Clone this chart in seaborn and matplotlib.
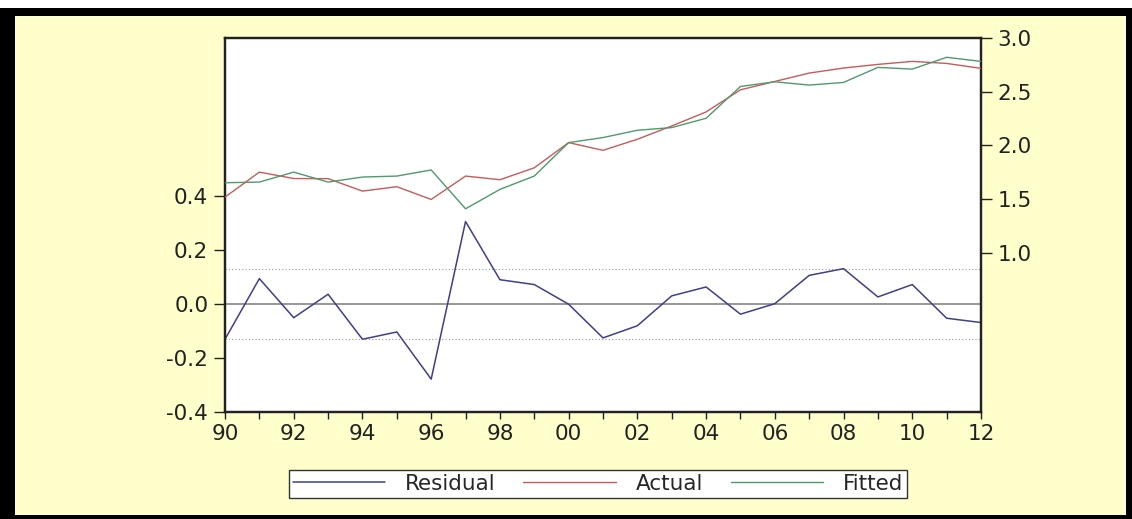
import matplotlib
matplotlib.use("Agg")
import matplotlib.pyplot as plt
from matplotlib.patches import Rectangle
from matplotlib.ticker import MultipleLocator, FixedLocator, FuncFormatter
import seaborn as sns
import pandas as pd

# Annual observations, 1990-2012
years = list(range(1990, 2013))
residual = [-0.130, 0.095, -0.050, 0.037, -0.130, -0.103, -0.278, 0.307, 0.091, 0.073,
            0.000, -0.125, -0.080, 0.031, 0.064, -0.037, 0.002, 0.107, 0.132, 0.027,
            0.073, -0.052, -0.068]
actual = [1.517, 1.750, 1.690, 1.689, 1.573, 1.614, 1.495, 1.713, 1.679, 1.790,
          2.025, 1.953, 2.056, 2.180, 2.311, 2.517, 2.595, 2.673, 2.720, 2.754,
          2.782, 2.763, 2.717]
fitted = [1.651, 1.657, 1.750, 1.657, 1.704, 1.713, 1.770, 1.408, 1.589, 1.713,
          2.025, 2.072, 2.140, 2.165, 2.252, 2.548, 2.592, 2.561, 2.586, 2.726,
          2.710, 2.820, 2.782]
resid_se = 0.13  # one standard error band around zero

left_ticks = [-0.4, -0.2, 0.0, 0.2, 0.4]
right_ticks = [1.0, 1.5, 2.0, 2.5, 3.0]

df = pd.DataFrame({"year": years, "Residual": residual,
                   "Actual": actual, "Fitted": fitted})

sns.set_style("ticks")
plt.rcParams["font.family"] = ["DejaVu Sans"]

W, H = 1132, 519
fig = plt.figure(figsize=(W / 100, H / 100), dpi=100, facecolor="white")

# black frame with a pale yellow panel inside
fig.patches.append(Rectangle((0, 0), 1, 511 / H, transform=fig.transFigure,
                             facecolor="black", edgecolor="none", zorder=-3))
fig.patches.append(Rectangle((15 / W, 4 / H), 1111 / W, 499 / H,
                             transform=fig.transFigure, facecolor="#FFFFCC",
                             edgecolor="none", zorder=-2))

ax = fig.add_axes([225 / W, 107 / H, 756 / W, 374 / H])
ax.set_facecolor("white")
ax2 = ax.twinx()

c_res, c_act, c_fit = "#3f3f8a", "#c85a5a", "#4f9a6c"

# reference lines for the residual
ax.axhline(0, color="#7a7a7a", lw=1.1, zorder=1)
for v in (resid_se, -resid_se):
    ax.axhline(v, color="#9a9a9a", lw=0.8, ls=(0, (1, 2)), zorder=1)

sns.lineplot(data=df, x="year", y="Residual", ax=ax, color=c_res, lw=1.1,
             label="Residual", legend=False, zorder=3)
sns.lineplot(data=df, x="year", y="Actual", ax=ax2, color=c_act, lw=1.0,
             label="Actual", legend=False, zorder=3)
sns.lineplot(data=df, x="year", y="Fitted", ax=ax2, color=c_fit, lw=1.0,
             label="Fitted", legend=False, zorder=3)

ax.set_xlim(1990, 2012)
ax.set_ylim(-0.4, 0.988)
ax2.set_ylim(-0.486, 3.0)

ax.xaxis.set_major_locator(MultipleLocator(1))
ax.xaxis.set_major_formatter(FuncFormatter(
    lambda v, p: f"{int(round(v)) % 100:02d}" if int(round(v)) % 2 == 0 else ""))
ax.yaxis.set_major_locator(FixedLocator(left_ticks))
ax.yaxis.set_major_formatter(FuncFormatter(lambda v, p: f"{v:.1f}"))
ax2.yaxis.set_major_locator(FixedLocator(right_ticks))
ax2.yaxis.set_major_formatter(FuncFormatter(lambda v, p: f"{v:.1f}"))

for a in (ax, ax2):
    a.set_xlabel("")
    a.set_ylabel("")
    for s in a.spines.values():
        s.set_linewidth(1.6)
        s.set_color("#222222")
    a.tick_params(direction="out", width=1, colors="#222222",
                  labelsize=15.5, labelcolor="#222222")
    a.tick_params(axis="y", length=8, pad=4)

ax.tick_params(axis="x", length=5, pad=4)

handles = ax.get_lines()[-1:] + ax2.get_lines()
labels = ["Residual", "Actual", "Fitted"]
leg = fig.legend(handles, labels, loc="center", ncol=3,
                 bbox_to_anchor=(598 / W, (H - 484) / H),
                 frameon=True, fancybox=False, edgecolor="#333333",
                 facecolor="white", framealpha=1, fontsize=15.5,
                 handlelength=4.3, columnspacing=1.3, handletextpad=0.9,
                 borderpad=0.2)
leg.get_frame().set_linewidth(1.0)

fig.savefig("out.png", dpi=100, facecolor=fig.get_facecolor())
